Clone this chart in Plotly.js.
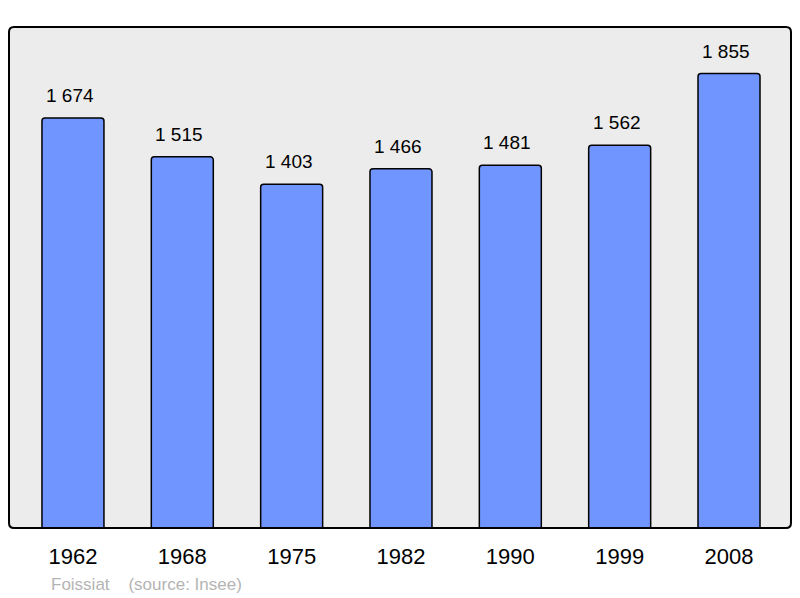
<!DOCTYPE html>
<html>
<head>
<meta charset="utf-8">
<script src="https://cdn.plot.ly/plotly-3.0.1.min.js"></script>
<style>html,body{margin:0;padding:0;background:#fff;}#chart{width:800px;height:598px;}</style>
</head>
<body>
<div id="chart"></div>
<script>
const years = ['1962', '1968', '1975', '1982', '1990', '1999', '2008'];
const population = [1674, 1515, 1403, 1466, 1481, 1562, 1855];
const footerText = 'Foissiat\u00a0\u00a0\u00a0\u00a0(source: Insee)';

function fmt(v) {
  return String(v).replace(/\B(?=(\d{3})+(?!\d))/g, ' ');
}

const FONT = 'Liberation Sans, Arial, sans-serif';

const trace = {
  type: 'bar',
  x: years,
  y: population,
  width: 0.567,
  marker: { color: '#7095ff', line: { color: '#000', width: 1.5 }, cornerradius: 3 },
  hoverinfo: 'skip'
};

const W = 800, H = 598, ml = 9, mr = 9, mt = 27, mb = 70;
const pw = W - ml - mr, ph = H - mt - mb;

const annotations = years.map((yr, i) => ({
  x: i, y: population[i], xref: 'x', yref: 'y',
  text: fmt(population[i]), showarrow: false,
  yanchor: 'bottom', yshift: 10, xshift: -3,
  font: { family: FONT, size: 19, color: '#000' }
}));
annotations.push({
  x: (49 - ml) / pw, y: (H - mb - 584) / ph, xref: 'paper', yref: 'paper',
  xanchor: 'left', yanchor: 'middle',
  text: footerText, showarrow: false,
  font: { family: FONT, size: 17, color: '#b4b4b4' }
});

// rounded frame around the plot area (paper coords)
const rx = 5 / pw, ry = 5 / ph;
const framePath = [
  'M', rx, 0, 'L', 1 - rx, 0, 'Q', 1, 0, 1, ry,
  'L', 1, 1 - ry, 'Q', 1, 1, 1 - rx, 1,
  'L', rx, 1, 'Q', 0, 1, 0, 1 - ry,
  'L', 0, ry, 'Q', 0, 0, rx, 0, 'Z'
].join(' ');

const layout = {
  width: W, height: H,
  margin: { l: ml, r: mr, t: mt, b: mb },
  paper_bgcolor: '#ffffff',
  plot_bgcolor: 'rgba(0,0,0,0)',
  showlegend: false,
  xaxis: {
    type: 'category', range: [-0.585, 6.567], fixedrange: true,
    showgrid: false, zeroline: false, showline: false, ticks: '',
    ticklabelstandoff: 13,
    tickfont: { family: FONT, size: 22, color: '#000' }
  },
  yaxis: {
    range: [0, 2045], showgrid: false, zeroline: false, showline: false,
    showticklabels: false, ticks: '', fixedrange: true
  },
  shapes: [
    { type: 'path', xref: 'paper', yref: 'paper', path: framePath,
      fillcolor: '#ececec', line: { width: 0 }, layer: 'below' },
    { type: 'path', xref: 'paper', yref: 'paper', path: framePath,
      line: { color: '#000', width: 2 }, layer: 'above' }
  ],
  annotations: annotations
};

Plotly.newPlot('chart', [trace], layout, { displayModeBar: false, staticPlot: true });
</script>
</body>
</html>
